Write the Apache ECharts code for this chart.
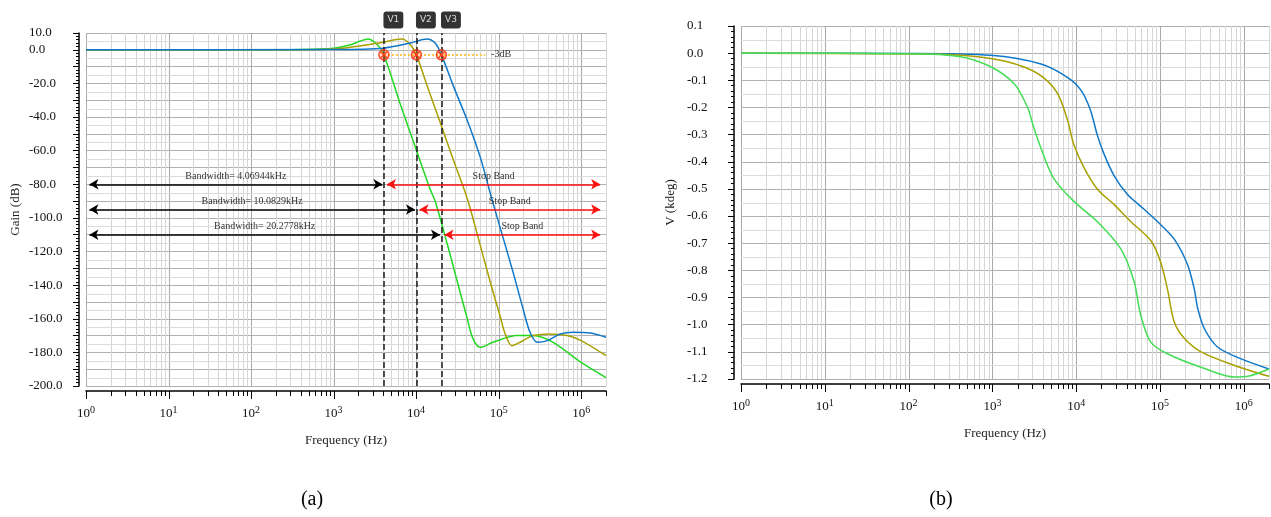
<!DOCTYPE html>
<html>
<head>
<meta charset="utf-8">
<script src="https://cdn.jsdelivr.net/npm/echarts@6/dist/echarts.min.js"></script>
<style>
  html, body { margin: 0; padding: 0; background: #fff; }
  #chart { width: 1271px; height: 517px; }
</style>
</head>
<body>
<div id="chart"></div>
<script>
// (a) gain curves, frequency in Hz / gain in dB
const gainFreqGreen = [1, 100, 400, 1000, 1600, 2100, 2600, 3400, 4069.44, 6500, 9800, 14800, 17000, 24000, 31600, 41700, 49000, 60000, 85000, 166000, 263000, 457000, 1000000, 2000000];
const gainGreen     = [0, 0, 0.2, 1, 3, 5.2, 6.4, 3, -3, -33, -58, -83, -90, -116, -138, -160, -172, -177, -174, -170, -170, -174, -186, -195];
const gainFreqOlive = [1, 300, 1000, 1600, 4000, 5500, 6760, 8500, 10082.9, 13500, 19500, 28000, 42000, 56000, 79000, 105000, 120000, 145000, 182000, 263000, 417000, 676000, 1000000, 2000000];
const gainOlive     = [0, 0, 0.5, 1.5, 4.5, 6, 6.4, 3, -3, -21, -43, -65, -89, -111, -138, -159, -169, -176, -174, -170, -169, -170, -173, -182];
const gainFreqBlue  = [1, 1000, 4000, 8500, 13500, 17000, 20277.8, 28000, 41700, 60000, 83000, 112000, 151000, 200000, 240000, 295000, 389000, 562000, 794000, 1290000, 2000000];
const gainBlue      = [0, 0.2, 1, 4, 6.4, 4, -3, -21, -42, -64, -89, -111, -133, -155, -168, -174, -173, -169, -168, -168.5, -171];

// (b) phase curves, V in kdeg
const phFreqBlue  = [1, 100, 955, 3800, 7940, 11500, 14800, 17800, 21400, 28200, 40700, 64600, 93300, 148000, 214000, 257000, 282000, 339000, 490000, 933000, 2000000];
const phBlue      = [0, -0.001, -0.008, -0.04, -0.09, -0.138, -0.21, -0.30, -0.37, -0.45, -0.52, -0.575, -0.62, -0.685, -0.78, -0.87, -0.94, -1.015, -1.083, -1.126, -1.163];
const phFreqOlive = [1, 240, 955, 2340, 4070, 6030, 7940, 9330, 12300, 17800, 28200, 44700, 77600, 102000, 123000, 148000, 195000, 309000, 776000, 2000000];
const phOlive     = [0, -0.004, -0.02, -0.05, -0.09, -0.15, -0.25, -0.335, -0.42, -0.50, -0.557, -0.62, -0.69, -0.77, -0.87, -0.99, -1.05, -1.10, -1.15, -1.19];
const phFreqGreen = [1, 100, 400, 955, 1820, 2630, 3090, 3800, 5370, 9330, 17800, 33900, 49000, 58900, 77600, 123000, 309000, 776000, 1120000, 2000000];
const phGreen     = [0, -0.002, -0.012, -0.05, -0.113, -0.2, -0.27, -0.35, -0.46, -0.545, -0.62, -0.72, -0.84, -0.965, -1.064, -1.107, -1.157, -1.193, -1.19, -1.163];

// annotations of (a)
const cutoffFreqs = [4069.44, 10082.9, 20277.8];
const cutoffNames = ['V1', 'V2', 'V3'];
const bandwidthTexts = ['Bandwidth= 4.06944kHz', 'Bandwidth= 10.0829kHz', 'Bandwidth= 20.2778kHz'];
const arrowLevels = [-80, -95, -110];
const minus3dB = -3;
const minus3dBEnd = 68600;

const SERIF = 'Liberation Serif';
const colBlue = '#0f78c8', colOlive = '#a9a000', colGreen = '#22d922', colGreenB = '#44dd55';
const fMin = 1, fMax = 2e6;

function pairs(xs, ys) { return xs.map((x, i) => [x, ys[i]]); }
function crisp(v) { return Math.round(v) + 0.5; }

// 1..9 x 10^d positions for the log grid / ticks
const logPos = [];
for (let d = 0; d <= 6; d++) {
  for (let m = 1; m <= 9; m++) {
    const f = m * Math.pow(10, d);
    if (f <= fMax) logPos.push([f, m === 1 ? 1 : 0]);
  }
}

function vGrid(idx, yMin, yMax) {
  return {
    type: 'custom', xAxisIndex: idx, yAxisIndex: idx, silent: true, z: 1,
    data: logPos.map(p => [p[0], yMin, p[1]]),
    renderItem(params, api) {
      const a = api.coord([api.value(0), yMax]);
      const b = api.coord([api.value(0), yMin]);
      const x = crisp(a[0]);
      return { type: 'line', shape: { x1: x, y1: a[1], x2: x, y2: b[1] },
        style: { stroke: api.value(2) === 1 ? '#a9a9a9' : '#d6d6d6', lineWidth: 1 } };
    }
  };
}

function hGrid(idx, values) {
  return {
    type: 'custom', xAxisIndex: idx, yAxisIndex: idx, silent: true, z: 1,
    data: values.map(v => [fMin, v]),
    renderItem(params, api) {
      const a = api.coord([fMin, api.value(1)]);
      const b = api.coord([fMax, api.value(1)]);
      const y = crisp(a[1]);
      return { type: 'line', shape: { x1: a[0], y1: y, x2: b[0], y2: y },
        style: { stroke: '#dcdcdc', lineWidth: 1 } };
    }
  };
}

function xTicks(idx, yMin, offset) {
  return {
    type: 'custom', xAxisIndex: idx, yAxisIndex: idx, silent: true, z: 5,
    data: logPos.map(p => [p[0], yMin, p[1]]),
    renderItem(params, api) {
      const p = api.coord([api.value(0), yMin]);
      const x = crisp(p[0]);
      const y = p[1] + offset;
      const len = api.value(2) === 1 ? 8 : 5;
      return { type: 'line', shape: { x1: x, y1: y, x2: x, y2: y + len },
        style: { stroke: '#000', lineWidth: 1 } };
    }
  };
}

function halfSteps(min, max, step) {
  const out = [];
  for (let v = min + step / 2; v < max; v += step) out.push(+v.toFixed(4));
  return out;
}

function curve(idx, xs, ys, color, z) {
  return {
    type: 'line', xAxisIndex: idx, yAxisIndex: idx, data: pairs(xs, ys),
    showSymbol: false, smooth: 0.3, z: z || 3,
    lineStyle: { color: color, width: 1.5 }, itemStyle: { color: color }
  };
}

function xAxisCfg(idx, offset) {
  return {
    gridIndex: idx, type: 'log', logBase: 10, min: fMin, max: fMax, offset: offset,
    axisLine: { show: true, onZero: false, lineStyle: { color: '#000', width: 1.5 } },
    axisTick: { show: false }, splitLine: { show: false }, minorTick: { show: false },
    axisLabel: {
      showMaxLabel: false, margin: 14, color: '#111', fontFamily: SERIF, fontSize: 13,
      formatter: v => '10{s|' + Math.round(Math.log10(v)) + '}',
      rich: { s: { fontFamily: SERIF, fontSize: 10, color: '#111', padding: [0, 0, 8, 0] } }
    },
    name: 'Frequency (Hz)', nameLocation: 'middle', nameGap: 43,
    nameTextStyle: { fontFamily: SERIF, fontSize: 13, color: '#222' }
  };
}

const labelBase = { fontFamily: SERIF, fontSize: 10, color: '#333' };

const cutoffLines = cutoffFreqs.map(f => ({ xAxis: f }));

const arrows = [];
cutoffFreqs.forEach((f, i) => {
  arrows.push([
    { coord: [1.1, arrowLevels[i]],
      lineStyle: { type: 'solid', color: '#000', width: 1.5 },
      label: Object.assign({ show: true, position: 'insideMiddleTop', distance: 3, formatter: bandwidthTexts[i] }, labelBase) },
    { coord: [f * 0.96, arrowLevels[i]] }
  ]);
  arrows.push([
    { coord: [f * 1.09, arrowLevels[i]],
      lineStyle: { type: 'solid', color: '#ff1010', width: 1.5 },
      label: Object.assign({ show: true, position: 'insideMiddleTop', distance: 3, formatter: 'Stop Band' }, labelBase) },
    { coord: [1.7e6, arrowLevels[i]] }
  ]);
});

const chart = echarts.init(document.getElementById('chart'));
chart.setOption({
  animation: false,
  grid: [
    { left: 86, top: 33, width: 520, height: 353 },
    { left: 741, top: 26, width: 528, height: 353 }
  ],
  xAxis: [xAxisCfg(0, 5), xAxisCfg(1, 5)],
  yAxis: [
    {
      gridIndex: 0, type: 'value', min: -200, max: 10, interval: 10, offset: 7,
      axisLine: { show: true, lineStyle: { color: '#000', width: 1.5 } },
      axisTick: { show: true, length: 6, lineStyle: { color: '#000' } },
      minorTick: { show: true, splitNumber: 5, length: 3, lineStyle: { color: '#000' } },
      splitLine: { show: true, lineStyle: { color: '#b0b0b0', width: 1 } },
      axisLabel: {
        align: 'left', margin: 50, color: '#111', fontFamily: SERIF, fontSize: 13,
        formatter: v => (v % 20 === 0 || v === 10) ? (v === 0 ? '0.0' : v.toFixed(1)) : ''
      },
      name: 'Gain (dB)', nameLocation: 'middle', nameGap: 57,
      nameTextStyle: { fontFamily: SERIF, fontSize: 13, color: '#222' }
    },
    {
      gridIndex: 1, type: 'value', min: -1.2, max: 0.1, interval: 0.1, offset: 7,
      axisLine: { show: true, lineStyle: { color: '#000', width: 1.5 } },
      axisTick: { show: true, length: 6, lineStyle: { color: '#000' } },
      minorTick: { show: true, splitNumber: 5, length: 3, lineStyle: { color: '#000' } },
      splitLine: { show: true, lineStyle: { color: '#b0b0b0', width: 1 } },
      axisLabel: {
        align: 'left', margin: 47, color: '#111', fontFamily: SERIF, fontSize: 13,
        formatter: v => { const s = v.toFixed(1); return s === '-0.0' ? '0.0' : s; }
      },
      name: 'V (kdeg)', nameLocation: 'middle', nameGap: 57,
      nameTextStyle: { fontFamily: SERIF, fontSize: 13, color: '#222' }
    }
  ],
  graphic: [
    { type: 'text', x: 312, y: 500, style: { text: '(a)', font: '20px "Liberation Serif"', fill: '#000', align: 'center', verticalAlign: 'middle' } },
    { type: 'text', x: 941, y: 500, style: { text: '(b)', font: '20px "Liberation Serif"', fill: '#000', align: 'center', verticalAlign: 'middle' } }
  ],
  series: [
    vGrid(0, -200, 10), hGrid(0, halfSteps(-200, 10, 10)), xTicks(0, -200, 5),
    vGrid(1, -1.2, 0.1), hGrid(1, halfSteps(-1.2, 0.1, 0.1)), xTicks(1, -1.2, 5),

    Object.assign(curve(0, gainFreqGreen, gainGreen, colGreen), {
      markLine: { silent: true, animation: false, symbol: 'none', label: { show: false },
        lineStyle: { type: 'dashed', color: '#1a1a1a', width: 1.5 }, data: cutoffLines }
    }),
    Object.assign(curve(0, gainFreqOlive, gainOlive, colOlive), {
      markLine: { silent: true, animation: false, symbol: 'none',
        data: [[
          { coord: [cutoffFreqs[0], minus3dB], lineStyle: { type: 'dotted', color: '#ffc640', width: 2 },
            label: Object.assign({ show: true, position: 'end', distance: 6, formatter: '-3dB' }, labelBase) },
          { coord: [minus3dBEnd, minus3dB] }
        ]] }
    }),
    Object.assign(curve(0, gainFreqBlue, gainBlue, colBlue), {
      markLine: { silent: true, animation: false, symbol: ['arrow', 'arrow'], symbolSize: [8, 9], data: arrows }
    }),
    {
      type: 'scatter', xAxisIndex: 0, yAxisIndex: 0, z: 6, silent: true,
      data: cutoffFreqs.map(f => [f, minus3dB]),
      symbol: 'path://M10,0A10,10 0 1,1 9.99,0ZM3,3L17,17M17,3L3,17',
      symbolSize: 10,
      itemStyle: { color: 'rgba(255,150,60,0.35)', borderColor: '#ff2200', borderWidth: 1.5 }
    },
    {
      type: 'scatter', xAxisIndex: 0, yAxisIndex: 0, z: 6, silent: true,
      data: cutoffFreqs.map((f, i) => ({ value: [f, 10], name: cutoffNames[i] })),
      symbolSize: 1, itemStyle: { color: 'rgba(0,0,0,0)' },
      label: {
        show: true, position: 'top', distance: 4, offset: [9.5, 0],
        formatter: p => p.name, backgroundColor: '#000', color: '#fff',
        padding: [4, 4], borderRadius: 3, fontFamily: 'DejaVu Sans', fontSize: 9
      }
    },

    curve(1, phFreqBlue, phBlue, colBlue),
    curve(1, phFreqOlive, phOlive, colOlive),
    curve(1, phFreqGreen, phGreen, colGreenB)
  ]
});
</script>
</body>
</html>
